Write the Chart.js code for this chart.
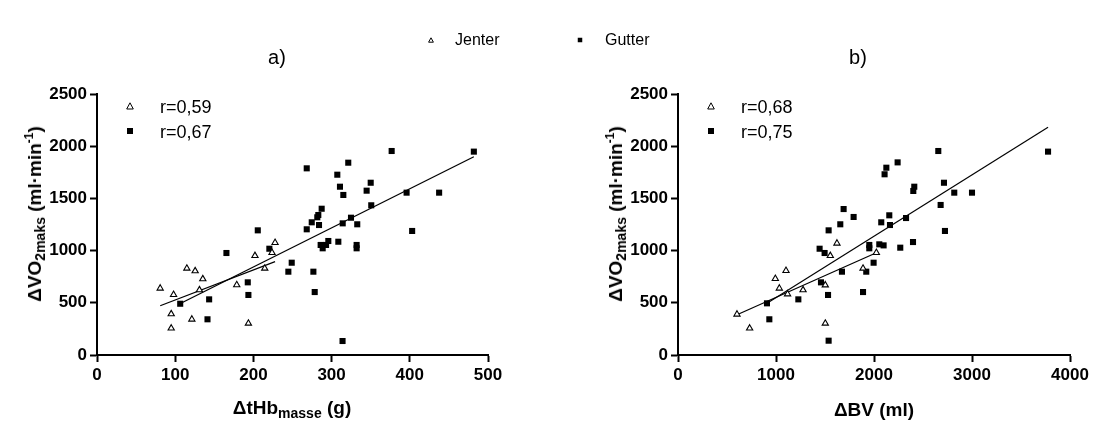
<!DOCTYPE html>
<html lang="no">
<head>
<meta charset="UTF-8">
<title>ΔVO2maks mot ΔtHb-masse og ΔBV</title>
<style>
  body { margin: 0; background: #fff; font-family: "Liberation Sans", Arial, sans-serif; }
  #wrap { position: relative; width: 1097px; height: 428px; overflow: hidden; background: #fff; }
  canvas { position: absolute; top: 0; }
  .txt { position: absolute; color: #000; white-space: nowrap; line-height: 1; }
  .ytitle { font-weight: bold; font-size: 19px; transform: translate(-50%, -50%) rotate(-90deg); }
  .xtitle { font-weight: bold; font-size: 19px; transform: translate(-50%, -50%); }
  .ytitle sub, .xtitle sub { font-size: 14px; vertical-align: -4px; }
  .ytitle sup { font-size: 12px; vertical-align: 8px; }
  .panel { font-size: 20px; transform: translate(-50%, -50%); }
  .leg { font-size: 16px; transform: translateY(-50%); }
  .rleg { font-size: 18px; transform: translateY(-50%); }
  .mark { position: absolute; transform: translate(-50%, -50%); }
</style>
</head>
<body>
<div id="wrap">
  <canvas id="chartA" width="560" height="428" style="left:0px;"></canvas>
  <canvas id="chartB" width="537" height="428" style="left:560px;"></canvas>

  <!-- felles forklaring -->
  <svg class="mark" style="left:431px;top:40px;" width="6" height="6"><polygon points="3,0.8 5.4,5.2 0.6,5.2" fill="#fff" stroke="#000" stroke-width="1"/></svg>
  <div class="txt leg" style="left:455px;top:40px;">Jenter</div>
  <svg class="mark" style="left:580px;top:40px;" width="5" height="5"><rect x="0" y="0" width="5" height="5" fill="#000"/></svg>
  <div class="txt leg" style="left:605px;top:40px;">Gutter</div>

  <div class="txt panel" style="left:277px;top:57px;">a)</div>
  <div class="txt panel" style="left:858px;top:57px;">b)</div>

  <!-- r-verdier -->
  <svg class="mark" style="left:130px;top:106px;" width="8" height="8"><polygon points="4,0.8 7.3,7 0.7,7" fill="#fff" stroke="#000" stroke-width="1"/></svg>
  <div class="txt rleg" style="left:160px;top:107px;">r=0,59</div>
  <svg class="mark" style="left:130px;top:131px;" width="6" height="6"><rect x="0" y="0" width="6" height="6" fill="#000"/></svg>
  <div class="txt rleg" style="left:160px;top:132px;">r=0,67</div>

  <svg class="mark" style="left:711px;top:106px;" width="8" height="8"><polygon points="4,0.8 7.3,7 0.7,7" fill="#fff" stroke="#000" stroke-width="1"/></svg>
  <div class="txt rleg" style="left:741px;top:107px;">r=0,68</div>
  <svg class="mark" style="left:711px;top:131px;" width="6" height="6"><rect x="0" y="0" width="6" height="6" fill="#000"/></svg>
  <div class="txt rleg" style="left:741px;top:132px;">r=0,75</div>

  <!-- aksetitler -->
  <div class="txt ytitle" style="left:35px;top:214px;">ΔVO<sub>2maks</sub> (ml·min<sup>-1</sup>)</div>
  <div class="txt ytitle" style="left:616px;top:214px;">ΔVO<sub>2maks</sub> (ml·min<sup>-1</sup>)</div>
  <div class="txt xtitle" style="left:292px;top:409px;">ΔtHb<sub>masse</sub> (g)</div>
  <div class="txt xtitle" style="left:874px;top:409px;">ΔBV (ml)</div>
</div>

<script src="https://cdn.jsdelivr.net/npm/chart.js"></script>
<script>
// a) ΔtHb-masse (g) mot ΔVO2maks
const hbJenterX = [80.8, 97.9, 94.9, 94.9, 114.9, 125.5, 121.3, 135.3, 131.0, 178.7, 193.6, 202.0, 214.5, 223.8, 227.7];
const hbJenterY = [639, 578, 393, 256, 830, 805, 342, 728, 623, 671, 303, 951, 830, 980, 1076];
const hbGutterX = [106.4, 143.4, 141.3, 165.5, 192.8, 193.6, 205.6, 220.4, 244.7, 249.0, 268.2, 268.2, 274.6, 276.7, 278.4, 281.7, 283.0, 283.9, 287.3, 286.0, 288.6, 292.9, 295.8, 307.3, 310.7, 308.6, 315.0, 314.2, 314.0, 321.3, 324.8, 332.8, 332.0, 332.0, 344.8, 350.0, 350.7, 376.8, 395.9, 403.0, 437.5, 481.9];
const hbGutterY = [491, 533, 342, 977, 696, 575, 1194, 1018, 798, 884, 1788, 1204, 1271, 798, 603, 1319, 1341, 1245, 1401, 1054, 1022, 1054, 1092, 1727, 1612, 1085, 1533, 1261, 134, 1842, 1315, 1252, 1054, 1022, 1574, 1650, 1434, 1954, 1555, 1188, 1555, 1948];
const hbJenterFitX = [80.8, 227.7];
const hbJenterFitY = [472, 894];
const hbGutterFitX = [108.5, 481.9];
const hbGutterFitY = [501, 1899];

// b) ΔBV (ml) mot ΔVO2maks
const bvJenterX = [602, 731, 993, 1102, 1034, 1118, 1276, 1503, 1503, 1554, 1622, 1888, 2024];
const bvJenterY = [390, 256, 731, 808, 639, 584, 623, 670, 303, 951, 1070, 830, 980];
const bvGutterX = [908, 932, 1228, 1445, 1459, 1496, 1531, 1537, 1537, 1656, 1673, 1690, 1792, 1888, 1921, 1952, 1952, 1996, 2054, 2074, 2098, 2108, 2126, 2156, 2163, 2241, 2268, 2327, 2398, 2401, 2411, 2656, 2680, 2714, 2724, 2819, 3000, 3776];
const bvGutterY = [495, 342, 533, 1018, 696, 977, 575, 137, 1194, 1252, 798, 1398, 1322, 603, 798, 1054, 1022, 884, 1060, 1271, 1050, 1731, 1794, 1338, 1245, 1845, 1028, 1312, 1082, 1571, 1612, 1954, 1437, 1650, 1188, 1555, 1555, 1948];
const bvJenterFitX = [602, 2024];
const bvJenterFitY = [385, 980];
const bvGutterFitX = [908, 3776];
const bvGutterFitY = [495, 2181];

const xTicksA = [0, 100, 200, 300, 400, 500];
const xTicksB = [0, 1000, 2000, 3000, 4000];
const yTicks = [0, 500, 1000, 1500, 2000, 2500];

function pts(xs, ys) {
    return xs.map((x, i) => ({ x: x, y: ys[i] }));
}

function axis(ticks, fit) {
    return {
        type: 'linear',
        min: ticks[0],
        max: ticks[ticks.length - 1],
        afterBuildTicks: s => { s.ticks = ticks.map(v => ({ value: v })); },
        afterFit: fit,
        ticks: {
            color: '#000',
            font: { family: '"Liberation Sans", Arial, sans-serif', size: 17, weight: 'bold' },
            padding: 3,
            callback: v => String(v)
        },
        grid: { display: true, drawOnChartArea: false, drawTicks: true, tickLength: 7, tickWidth: 2, color: '#000' },
        border: { display: true, color: '#000', width: 2 }
    };
}

function makeChart(id, jx, jy, gx, gy, jfx, jfy, gfx, gfy, xTicks, yWidth, rightPad) {
    const ctx = document.getElementById(id).getContext('2d');
    return new Chart(ctx, {
        type: 'scatter',
        data: {
            datasets: [
                {
                    label: 'Jenter',
                    data: pts(jx, jy),
                    pointStyle: 'triangle',
                    pointRadius: 3.6,
                    pointBackgroundColor: '#fff',
                    pointBorderColor: '#000',
                    pointBorderWidth: 1.1
                },
                {
                    label: 'Gutter',
                    data: pts(gx, gy),
                    pointStyle: 'rect',
                    pointRadius: 4.3,
                    pointBackgroundColor: '#000',
                    pointBorderColor: '#000',
                    pointBorderWidth: 0
                },
                {
                    label: 'Jenter fit',
                    data: pts(jfx, jfy),
                    showLine: true,
                    pointRadius: 0,
                    borderColor: '#000',
                    borderWidth: 1.2,
                    fill: false
                },
                {
                    label: 'Gutter fit',
                    data: pts(gfx, gfy),
                    showLine: true,
                    pointRadius: 0,
                    borderColor: '#000',
                    borderWidth: 1.2,
                    fill: false
                }
            ]
        },
        options: {
            responsive: false,
            animation: false,
            devicePixelRatio: 1,
            layout: { padding: { left: 0, top: 94, right: rightPad, bottom: 0 } },
            plugins: { legend: { display: false }, tooltip: { enabled: false }, title: { display: false } },
            scales: {
                x: axis(xTicks, s => { s.height = 73; }),
                y: axis(yTicks, s => { s.width = yWidth; })
            }
        }
    });
}

window.onload = function() {
    makeChart('chartA', hbJenterX, hbJenterY, hbGutterX, hbGutterY,
        hbJenterFitX, hbJenterFitY, hbGutterFitX, hbGutterFitY, xTicksA, 97, 72);
    makeChart('chartB', bvJenterX, bvJenterY, bvGutterX, bvGutterY,
        bvJenterFitX, bvJenterFitY, bvGutterFitX, bvGutterFitY, xTicksB, 118, 27);
};
</script>
</body>
</html>
